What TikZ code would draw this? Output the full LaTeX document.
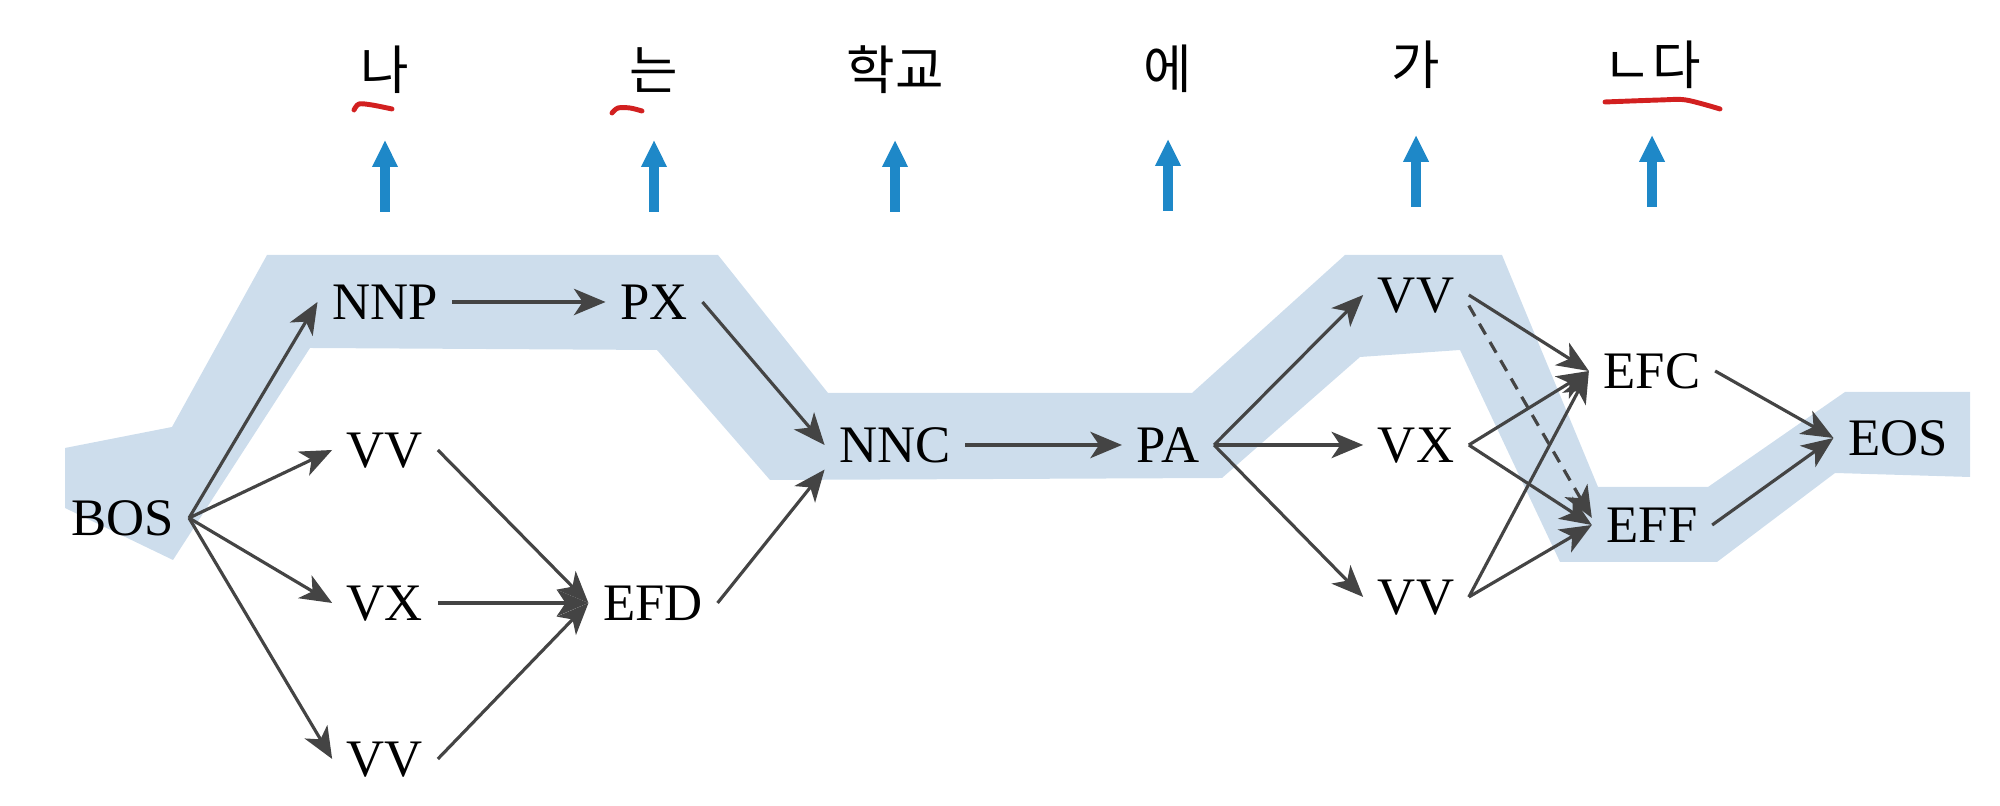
\documentclass[tikz,border=0pt]{standalone}
\usepackage{fontspec}
\setmainfont{Liberation Serif}
\newfontfamily\kofont{Noto Sans CJK KR}
\usepackage{tikz}
\usetikzlibrary{arrows.meta, positioning}
\definecolor{bandblue}{HTML}{CDDDEC}
\definecolor{arrowblue}{HTML}{1E88C8}
\definecolor{edgegray}{HTML}{444444}
\definecolor{markred}{HTML}{D22020}

\begin{document}
\begin{tikzpicture}[
        on grid,
        tag/.style={font=\fontsize{15}{18}\selectfont, inner sep=4pt, text height=10pt, text depth=0pt},
        word/.style={font=\kofont\fontsize{15}{18}\selectfont, inner sep=0pt},
        link/.style={-{Stealth[length=9pt, width=7.5pt, inset=2.5pt]}, line width=0.9pt, edgegray},
        uparrow/.style={-{Triangle[length=0.27cm, width=0.24cm]}, line width=2.6pt, arrowblue},
        pen/.style={markred, line width=1.4pt, line cap=round, line join=round},
        band/.style={fill=bandblue}
    ]
        \useasboundingbox (0,0) rectangle (20,8.06);

        % best path
        \fill[band] (0.65,3.58) -- (1.72,3.79) -- (2.67,5.51) -- (7.18,5.51) -- (8.28,4.13)
            -- (11.92,4.13) -- (13.45,5.51) -- (15.02,5.51) -- (15.98,3.19) -- (17.08,3.19)
            -- (18.45,4.14) -- (19.70,4.14) -- (19.70,3.29) -- (18.35,3.33) -- (17.17,2.44)
            -- (15.60,2.44) -- (14.60,4.56) -- (13.60,4.49) -- (12.22,3.28) -- (7.70,3.26)
            -- (6.57,4.56) -- (3.10,4.58) -- (1.73,2.46) -- (0.65,2.98) -- cycle;

        \node (bos) [tag] at (1.23,2.88) {BOS};
        \node (nnp) [tag, above right=2.16cm and 2.62cm of bos] {NNP};
        \node (vv1) [tag, below=1.48cm of nnp] {VV};
        \node (vx1) [tag, below=1.53cm of vv1] {VX};
        \node (vv2) [tag, below=1.56cm of vx1] {VV};
        \node (px) [tag, right=2.69cm of nnp] {PX};
        \node (efd) [tag, right=2.68cm of vx1] {EFD};
        \node (nnc) [tag, below right=1.43cm and 2.41cm of px] {NNC};
        \node (pa) [tag, right=2.73cm of nnc] {PA};
        \node (vx2) [tag, right=2.48cm of pa] {VX};
        \node (vv3) [tag, above=1.5cm of vx2] {VV};
        \node (vv4) [tag, below=1.52cm of vx2] {VV};
        \node (efc) [tag, above right=0.74cm and 2.36cm of vx2] {EFC};
        \node (eff) [tag, below=1.54cm of efc] {EFF};
        \node (eos) [tag, below right=0.67cm and 2.46cm of efc] {EOS};

        % morphemes
        \node (w1) [word, above=2.32cm of nnp] {나};
        \node (w2) [word, above=2.32cm of px] {는};
        \node (w3) [word, above=3.75cm of nnc] {학교};
        \node (w4) [word, above=3.76cm of pa] {에};
        \node (w5) [word, above=2.30cm of vv3] {가};
        \node (w6) [word, above=3.06cm of efc] {ㄴ다};

        \draw [uparrow] ([yshift=-1.42cm]w1.center) -- ([yshift=-7mm]w1.center);
        \draw [uparrow] ([yshift=-1.42cm]w2.center) -- ([yshift=-7mm]w2.center);
        \draw [uparrow] ([yshift=-1.42cm]w3.center) -- ([yshift=-7mm]w3.center);
        \draw [uparrow] ([yshift=-1.42cm]w4.center) -- ([yshift=-7mm]w4.center);
        \draw [uparrow] ([yshift=-1.42cm]w5.center) -- ([yshift=-7mm]w5.center);
        \draw [uparrow] ([yshift=-1.42cm]w6.center) -- ([yshift=-7mm]w6.center);

        % red pen marks
        \draw [pen] plot[smooth] coordinates {(3.54,6.96) (3.59,7.02) (3.72,7.01) (3.92,6.97)};
        \draw [pen] plot[smooth] coordinates {(6.12,6.93) (6.18,6.98) (6.30,6.98) (6.42,6.95)};
        \draw [pen] plot[smooth] coordinates {(16.05,7.04) (16.60,7.06) (16.86,7.06) (17.20,6.97)};

        \draw [link] (bos.east) -- (nnp.west);
        \draw [link] (bos.east) -- (vv1.west);
        \draw [link] (bos.east) -- (vx1.west);
        \draw [link] (bos.east) -- (vv2.west);
        \draw [link] (nnp) -- (px);
        \draw [link] (vv1.east) -- (efd.west);
        \draw [link] (vx1.east) -- (efd.west);
        \draw [link] (vv2.east) -- (efd.west);
        \draw [link] (px.east) -- (nnc.west);
        \draw [link] (efd.east) -- ([yshift=-7pt]nnc.west);
        \draw [link] (nnc) -- (pa);
        \draw [link] (pa.east) -- (vv3.west);
        \draw [link] (pa.east) -- (vx2.west);
        \draw [link] (pa.east) -- (vv4.west);
        \draw [link] (vv3.east) -- (efc.west);
        \draw [link, dash pattern=on 3.5pt off 2.5pt] ([yshift=-3pt]vv3.east) -- ([yshift=2pt]eff.west);
        \draw [link] (vx2.east) -- (efc.west);
        \draw [link] (vx2.east) -- (eff.west);
        \draw [link] (vv4.east) -- (efc.west);
        \draw [link] (vv4.east) -- (eff.west);
        \draw [link] (efc.east) -- (eos.west);
        \draw [link] (eff.east) -- (eos.west);
    \end{tikzpicture}
\end{document}
